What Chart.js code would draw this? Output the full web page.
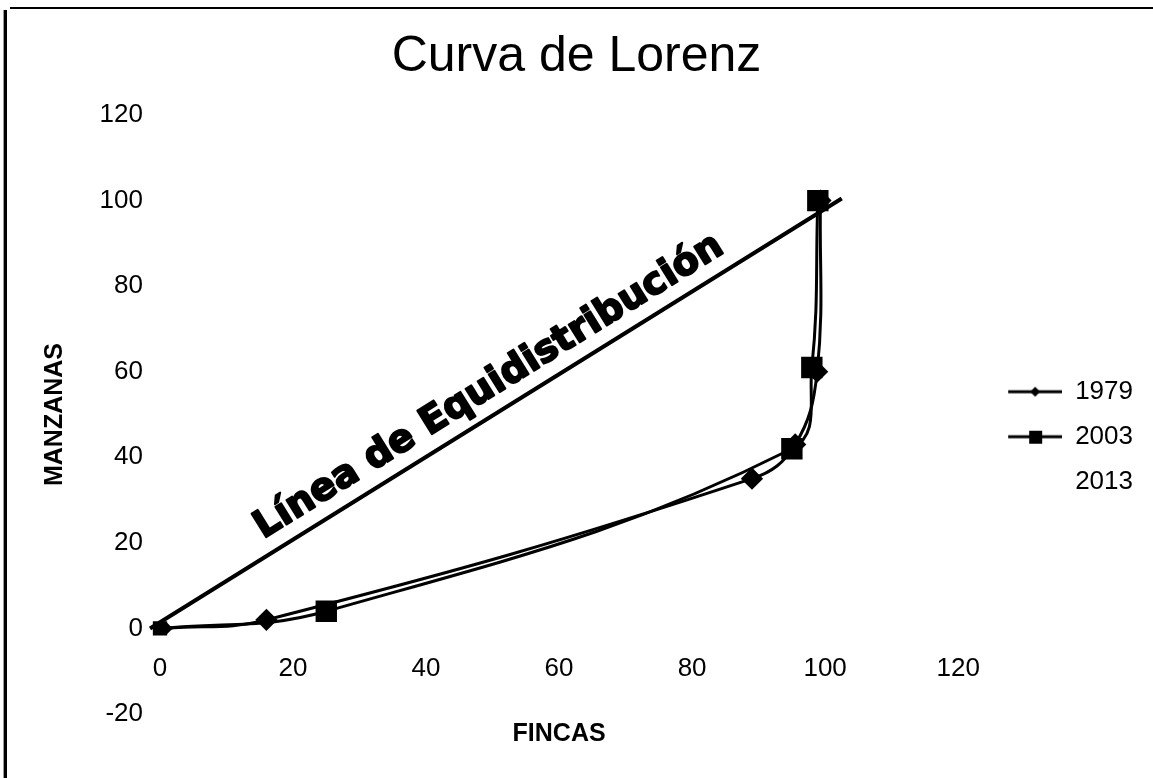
<!DOCTYPE html>
<html>
<head>
<meta charset="utf-8">
<script src="https://cdn.jsdelivr.net/npm/chart.js@4.4.1/dist/chart.umd.min.js"></script>
<style>
  body { margin: 0; background: #fff; }
  #wrap { position: relative; width: 1153px; height: 778px; }
  #frameTop { position: absolute; left: 10px; right: 0; top: 7px; height: 2px; background: #000; }
  #frameLeft { position: absolute; left: 3px; top: 10px; bottom: 0; width: 3px; border-left: 1px solid #999; background: #000; }
</style>
</head>
<body>
<div id="wrap">
  <canvas id="myChart" width="1153" height="778"></canvas>
  <div id="frameTop"></div>
  <div id="frameLeft"></div>
</div>
<script>
// Línea de equidistribución (drawn straight line)
const lineaX = [-1.5, 102.5];
const lineaY = [0, 100.5];

// Curves (% fincas vs % manzanas)
const fincas1979 = [1, 16, 89, 95.5, 98.8, 99.3];
const manzanas1979 = [0, 2, 35, 43, 60, 100];
const fincas2003 = [0, 25, 95, 98, 98.9];
const manzanas2003 = [0, 4, 42, 61, 100];
const fincas2013 = [];
const manzanas2013 = [];

const seriesLabels = ['1979', '2003', '2013'];
const xTicks = [0, 20, 40, 60, 80, 100, 120];
const yTicks = [-20, 0, 20, 40, 60, 80, 100, 120];

function toPoints(xs, ys) {
  return xs.map((x, i) => ({ x: x, y: ys[i] }));
}

// little legend samples: line with the marker in the middle
function legendSample(marker) {
  const c = document.createElement('canvas');
  c.width = 85;
  c.height = 20;
  const g = c.getContext('2d');
  if (!marker) return c;
  g.strokeStyle = '#000';
  g.fillStyle = '#000';
  g.lineWidth = 3;
  g.beginPath();
  g.moveTo(31, 10);
  g.lineTo(85, 10);
  g.stroke();
  if (marker === 'diamond') {
    g.beginPath();
    g.moveTo(58, 5); g.lineTo(63, 10); g.lineTo(58, 15); g.lineTo(53, 10);
    g.closePath();
    g.fill();
  } else {
    g.fillRect(52, 4, 13, 13);
  }
  return c;
}
const legendImages = [null, legendSample('diamond'), legendSample('square'), legendSample(null)];

const equiLabel = {
  id: 'equiLabel',
  afterDatasetsDraw(chart) {
    const pts = chart.getDatasetMeta(0).data;
    if (pts.length < 2) return;
    const a = pts[0], b = pts[1];
    const ang = Math.atan2(b.y - a.y, b.x - a.x);
    const frac = 0.51, off = 26;
    const cx = a.x + (b.x - a.x) * frac + Math.sin(ang) * off;
    const cy = a.y + (b.y - a.y) * frac - Math.cos(ang) * off;
    const ctx = chart.ctx;
    ctx.save();
    ctx.translate(cx, cy);
    ctx.rotate(ang);
    ctx.font = 'bold 38px "DejaVu Sans"';
    ctx.fillStyle = '#000';
    ctx.strokeStyle = '#000';
    ctx.lineWidth = 2;
    ctx.lineJoin = 'round';
    ctx.textAlign = 'center';
    ctx.textBaseline = 'middle';
    ctx.strokeText('Línea de Equidistribución', 0, 0);
    ctx.fillText('Línea de Equidistribución', 0, 0);
    ctx.restore();
  }
};

Chart.defaults.font.family = '"Liberation Sans", Arial, sans-serif';
Chart.defaults.color = '#000';

const ctx = document.getElementById('myChart').getContext('2d');
new Chart(ctx, {
  type: 'scatter',
  data: {
    datasets: [
      {
        label: 'Línea de Equidistribución',
        data: toPoints(lineaX, lineaY),
        showLine: true,
        borderColor: '#000',
        borderWidth: 4,
        pointRadius: 0,
        tension: 0,
        clip: false
      },
      {
        label: seriesLabels[0],
        data: toPoints(fincas1979, manzanas1979),
        showLine: true,
        borderColor: '#000',
        backgroundColor: '#000',
        borderWidth: 3,
        pointStyle: 'rectRot',
        // first marker barely shows in the original
        pointRadius: (c) => (c.dataIndex === 0 ? 4 : 9),
        tension: 0.4,
        clip: false
      },
      {
        label: seriesLabels[1],
        data: toPoints(fincas2003, manzanas2003),
        showLine: true,
        borderColor: '#000',
        backgroundColor: '#000',
        borderWidth: 3,
        pointStyle: 'rect',
        // the marker at the origin is mostly hidden in the original
        pointRadius: (c) => (c.dataIndex === 0 ? 8 : 13),
        tension: 0.4,
        clip: false
      },
      {
        label: seriesLabels[2],
        data: toPoints(fincas2013, manzanas2013),
        showLine: false,
        pointRadius: 0,
        borderWidth: 0
      }
    ]
  },
  options: {
    responsive: false,
    animation: false,
    layout: { padding: { left: 10, right: 10, top: 0, bottom: 0 } },
    scales: {
      x: {
        type: 'linear',
        position: { y: 0 },
        min: xTicks[0],
        max: xTicks[xTicks.length - 1],
        afterBuildTicks: (scale) => { scale.ticks = xTicks.map(v => ({ value: v })); },
        grid: { display: false, drawTicks: false },
        border: { display: false },
        ticks: { padding: 25, font: { size: 26 }, color: '#000' }
      },
      y: {
        type: 'linear',
        min: yTicks[0],
        max: yTicks[yTicks.length - 1],
        afterBuildTicks: (scale) => { scale.ticks = yTicks.map(v => ({ value: v })); },
        afterFit: (scale) => { scale.width = 150; },
        grid: { display: false, drawTicks: false },
        border: { display: false },
        ticks: { padding: 17, font: { size: 26 }, color: '#000' },
        title: {
          display: true,
          text: 'MANZANAS',
          font: { size: 25, weight: 'bold' },
          color: '#000',
          padding: { top: 30, bottom: 0 }
        }
      }
    },
    plugins: {
      title: {
        display: true,
        text: 'Curva de Lorenz',
        font: { size: 50, weight: 'normal' },
        color: '#000',
        padding: { top: 27, bottom: 28 }
      },
      subtitle: {
        display: true,
        text: 'FINCAS',
        position: 'bottom',
        fullSize: false,
        font: { size: 25, weight: 'bold' },
        color: '#000',
        padding: { top: 5, bottom: 29 }
      },
      legend: {
        position: 'right',
        fullSize: false,
        align: 'center',
        title: { display: true, text: '', padding: 15 },
        labels: {
          usePointStyle: true,
          pointStyleWidth: 85,
          padding: 19,
          font: { size: 26 },
          color: '#000',
          filter: (item) => item.datasetIndex > 0,
          generateLabels: (chart) => {
            const items = Chart.defaults.plugins.legend.labels.generateLabels(chart);
            return items.map(it => Object.assign(it, { pointStyle: legendImages[it.datasetIndex] }));
          }
        }
      },
      tooltip: { enabled: false }
    }
  },
  plugins: [equiLabel]
});
</script>
</body>
</html>
